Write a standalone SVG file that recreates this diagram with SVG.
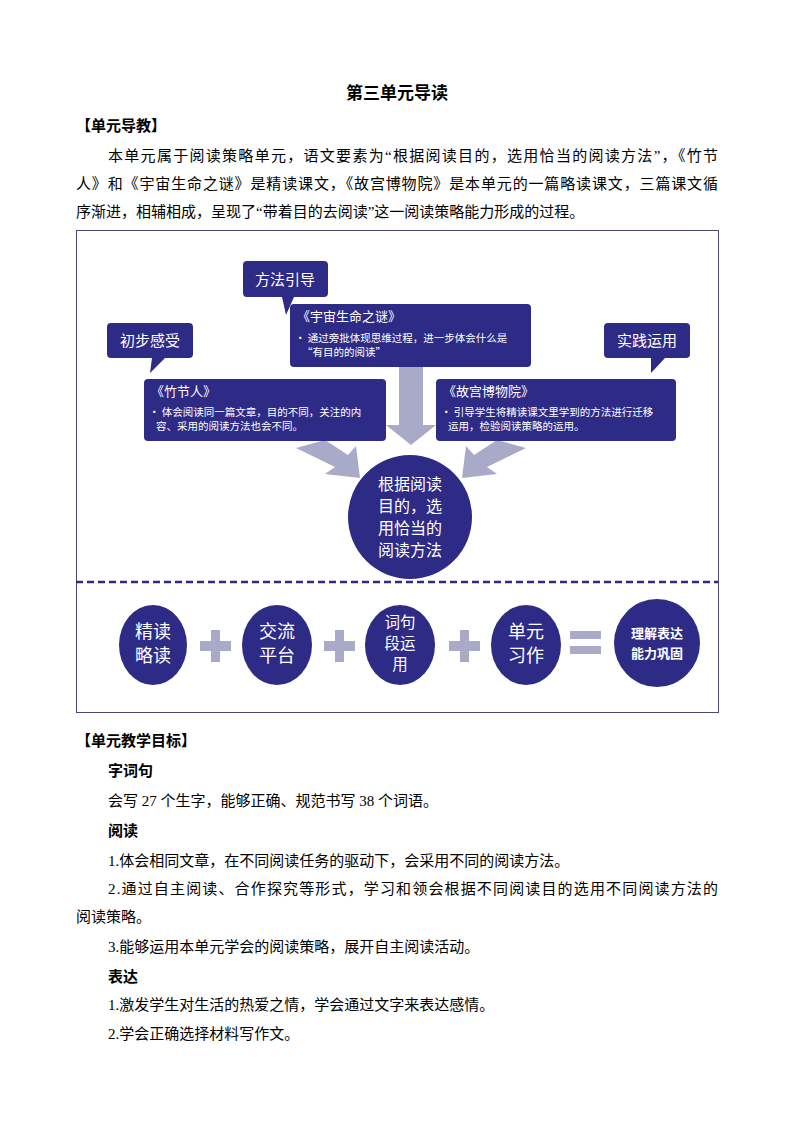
<svg xmlns="http://www.w3.org/2000/svg" width="794" height="1123" viewBox="0 0 794 1123">
<style>
svg{font-size:15px}
text{font-family:"Liberation Serif","Noto Sans CJK SC",serif;fill:#000}
.b{font-weight:bold}
.n{fill:#2e2b86}
.w{font-family:"Noto Sans CJK SC",sans-serif;fill:#fff}
.g{fill:#a9aac8}
</style>
<rect width="794" height="1123" fill="#fff"/>
<text x="397" y="99" text-anchor="middle" class="b" font-size="17">第三单元导读</text>
<text x="76" y="131" class="b">【单元导教】</text>
<text x="108" y="161" textLength="610" lengthAdjust="spacing">本单元属于阅读策略单元，语文要素为“根据阅读目的，选用恰当的阅读方法”，《竹节</text>
<text x="76" y="189" textLength="642" lengthAdjust="spacing">人》和《宇宙生命之谜》是精读课文，《故宫博物院》是本单元的一篇略读课文，三篇课文循</text>
<text x="76" y="217">序渐进，相辅相成，呈现了“带着目的去阅读”这一阅读策略能力形成的过程。</text>
<rect x="76.5" y="230.5" width="642" height="482" fill="none" stroke="#4a4a7a"/>
<g id="connectors">
<polygon class="g" points="399,367 423,367 423,425 436,425 411,445 386,425 399,425"/>
<polygon class="g" points="296,448 325,440 348,455 356,446 360,478 325,474 335,467"/>
<polygon class="g" points="526,448 497,440 474,455 466,446 462,478 497,474 487,467"/>
<rect class="g" x="200" y="641" width="31" height="10"/><rect class="g" x="211" y="630" width="9" height="32"/>
<rect class="g" x="324" y="641" width="31" height="10"/><rect class="g" x="335" y="630" width="9" height="32"/>
<rect class="g" x="449" y="641" width="31" height="10"/><rect class="g" x="460" y="630" width="9" height="32"/>
<rect class="g" x="570" y="631" width="31" height="8"/><rect class="g" x="570" y="646" width="31" height="8"/>
<line x1="76" y1="582" x2="718" y2="582" stroke="#2e2b86" stroke-width="2.5" stroke-dasharray="7,4"/>
</g>
<g id="callout-fangfa"><path class="n" d="M247,261h77a4,4 0 0 1 4,4v28a4,4 0 0 1-4,4h-30l-8,18l-4-18h-35a4,4 0 0 1-4-4v-28a4,4 0 0 1 4-4z"/><text x="285" y="285" text-anchor="middle" class="w">方法引导</text></g>
<g id="callout-chubu"><path class="n" d="M111,323h78a4,4 0 0 1 4,4v27a4,4 0 0 1-4,4h-24l-15,15l2-15h-41a4,4 0 0 1-4-4v-27a4,4 0 0 1 4-4z"/><text x="150" y="346" text-anchor="middle" class="w">初步感受</text></g>
<g id="callout-shijian"><path class="n" d="M608,323h78a4,4 0 0 1 4,4v27a4,4 0 0 1-4,4h-21l-14,15l0-15h-43a4,4 0 0 1-4-4v-27a4,4 0 0 1 4-4z"/><text x="647" y="346" text-anchor="middle" class="w">实践运用</text></g>
<g id="yuzhou"><rect class="n" x="290" y="304" width="241" height="63" rx="4"/>
<text x="297" y="321" class="w" font-size="13">《宇宙生命之谜》</text>
<text x="295" y="342" class="w" font-size="10.5">• 通过旁批体现思维过程，进一步体会什么是</text>
<text x="302" y="356" class="w" font-size="10.5">“有目的的阅读”</text></g>
<g id="zhujieren"><rect class="n" x="144" y="379" width="242" height="62" rx="4"/>
<text x="151" y="396" class="w" font-size="13">《竹节人》</text>
<text x="149" y="416" class="w" font-size="10.5">• 体会阅读同一篇文章，目的不同，关注的内</text>
<text x="156" y="430" class="w" font-size="10.5">容、采用的阅读方法也会不同。</text></g>
<g id="gugong"><rect class="n" x="436" y="379" width="240" height="62" rx="4"/>
<text x="443" y="396" class="w" font-size="13">《故宫博物院》</text>
<text x="441" y="416" class="w" font-size="10.5">• 引导学生将精读课文里学到的方法进行迁移</text>
<text x="448" y="430" class="w" font-size="10.5">运用，检验阅读策略的运用。</text></g>
<g id="center"><circle class="n" cx="410" cy="517" r="62"/>
<text class="w" font-size="16" text-anchor="middle"><tspan x="410" y="490">根据阅读</tspan><tspan x="410" y="512">目的，选</tspan><tspan x="410" y="534">用恰当的</tspan><tspan x="410" y="556">阅读方法</tspan></text></g>
<g id="jingdu"><ellipse class="n" cx="153" cy="645" rx="34" ry="40"/><text class="w" font-size="18" text-anchor="middle"><tspan x="153" y="638">精读</tspan><tspan x="153" y="662">略读</tspan></text></g>
<g id="jiaoliu"><ellipse class="n" cx="277" cy="645" rx="35" ry="40"/><text class="w" font-size="18" text-anchor="middle"><tspan x="277" y="638">交流</tspan><tspan x="277" y="662">平台</tspan></text></g>
<g id="ciju"><ellipse class="n" cx="400" cy="645" rx="35" ry="40"/><text class="w" font-size="15.5" text-anchor="middle"><tspan x="400" y="628">词句</tspan><tspan x="400" y="649">段运</tspan><tspan x="400" y="670">用</tspan></text></g>
<g id="danyuan"><ellipse class="n" cx="526" cy="645" rx="35" ry="40"/><text class="w" font-size="18" text-anchor="middle"><tspan x="526" y="638">单元</tspan><tspan x="526" y="662">习作</tspan></text></g>
<g id="lijie"><ellipse class="n" cx="657" cy="643" rx="43" ry="44"/><text class="w b" font-size="13" text-anchor="middle"><tspan x="657" y="638">理解表达</tspan><tspan x="657" y="658">能力巩固</tspan></text></g>
<text x="76" y="746" class="b">【单元教学目标】</text>
<text x="108" y="776" class="b">字词句</text>
<text x="108" y="806">会写 27 个生字，能够正确、规范书写 38 个词语。</text>
<text x="108" y="836" class="b">阅读</text>
<text x="108" y="866">1.体会相同文章，在不同阅读任务的驱动下，会采用不同的阅读方法。</text>
<text x="108" y="894" textLength="610" lengthAdjust="spacing">2.通过自主阅读、合作探究等形式，学习和领会根据不同阅读目的选用不同阅读方法的</text>
<text x="76" y="922">阅读策略。</text>
<text x="108" y="952">3.能够运用本单元学会的阅读策略，展开自主阅读活动。</text>
<text x="108" y="982" class="b">表达</text>
<text x="108" y="1010">1.激发学生对生活的热爱之情，学会通过文字来表达感情。</text>
<text x="108" y="1039">2.学会正确选择材料写作文。</text>
</svg>
